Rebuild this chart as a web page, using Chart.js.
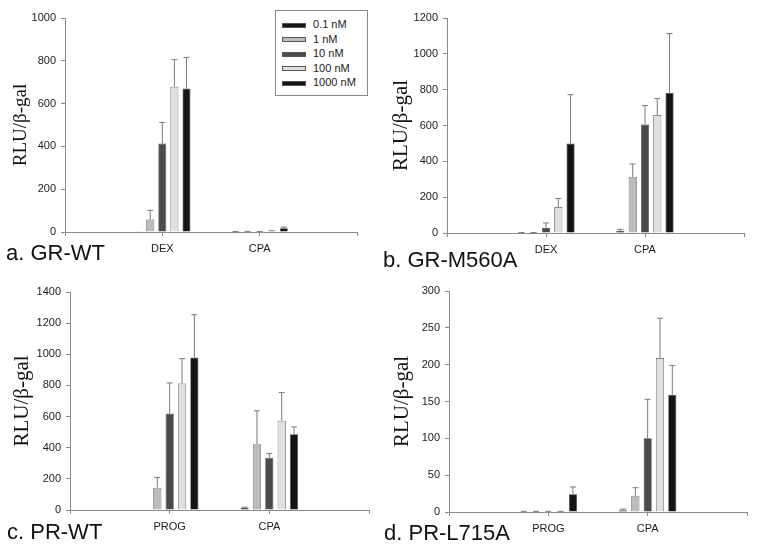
<!DOCTYPE html>
<html>
<head>
<meta charset="utf-8">
<script src="https://cdn.jsdelivr.net/npm/chart.js@4.4.1/dist/chart.umd.min.js"></script>
<style>
  body { margin: 0; background: #fff; }
  #wrap { position: relative; width: 757px; height: 548px; overflow: hidden; }
  canvas { position: absolute; }
  .panelLabel { position: absolute; font: 22px Arial, "Liberation Sans", sans-serif; line-height: 22px; color: #111; white-space: nowrap; }
  #legend { position: absolute; left: 275px; top: 10px; width: 91px; height: 84px; border: 1px solid #888; background: #fff;
            font: 11px Arial, "Liberation Sans", sans-serif; color: #222; }
  #legend div { position: absolute; left: 0; height: 14px; line-height: 14px; white-space: nowrap; color: #222; }
  #legend span { display: inline-block; width: 24px; height: 5px; margin: 0 7px 0 6px; vertical-align: middle; border: 0.5px solid #555; box-sizing: border-box; }
</style>
</head>
<body>
<div id="wrap">
  <canvas id="chartA" width="378" height="275" style="left:0;top:0"></canvas>
  <canvas id="chartB" width="379" height="275" style="left:378px;top:0"></canvas>
  <canvas id="chartC" width="378" height="273" style="left:0;top:275px"></canvas>
  <canvas id="chartD" width="379" height="273" style="left:378px;top:275px"></canvas>
  <div class="panelLabel" style="left:6px;top:242px">a. GR-WT</div>
  <div class="panelLabel" style="left:383px;top:249px">b. GR-M560A</div>
  <div class="panelLabel" style="left:7px;top:521px">c. PR-WT</div>
  <div class="panelLabel" style="left:384px;top:522px">d. PR-L715A</div>
  <div id="legend"></div>
</div>
<script>
const doses = ['0.1 nM', '1 nM', '10 nM', '100 nM', '1000 nM'];
const doseColors = ['#161616', '#bcbcbc', '#4a4a4a', '#e0e0e0', '#141414'];

const labelsGR = ['', 'DEX', 'CPA', ''];
const labelsPR = ['', 'PROG', 'CPA', ''];

// rows = dose, columns = [hormone, CPA]
const grWtMean = [[1, 1], [58, 2], [413, 1], [679, 4], [670, 17]];
const grWtErr = [[0, 1], [43, 1], [99, 1], [126, 2], [146, 6]];

const grM560Mean = [[2, 11], [2, 313], [28, 605], [145, 659], [499, 781]];
const grM560Err = [[1, 9], [1, 72], [28, 106], [48, 91], [273, 332]];

const prWtMean = [[2, 14], [143, 423], [620, 335], [812, 573], [979, 487]];
const prWtErr = [[0, 4], [66, 214], [196, 28], [160, 181], [275, 47]];

const prL715Mean = [[0.6, 2.5], [0.6, 22], [0.6, 100], [0.6, 209], [24, 159]];
const prL715Err = [[0.3, 1.5], [0.3, 11], [0.3, 53], [0.3, 54], [10, 40]];

// legenda do painel a
const legend = document.getElementById('legend');
doses.forEach((d, i) => {
    const row = document.createElement('div');
    row.style.top = (6 + i * 14.5) + 'px';
    row.innerHTML = '<span style="background:' + doseColors[i] + '"></span>' + d;
    legend.appendChild(row);
});

const errorBars = {
    id: 'errorBars',
    afterDatasetsDraw(chart) {
        const ctx = chart.ctx;
        const y = chart.scales.y;
        chart.data.datasets.forEach((ds, i) => {
            chart.getDatasetMeta(i).data.forEach((bar, j) => {
                const v = ds.data[j];
                const e = ds.errors[j];
                if (v == null || !e) return;
                const top = y.getPixelForValue(v + e);
                ctx.save();
                ctx.strokeStyle = '#7a7a7a';
                ctx.lineWidth = 1;
                ctx.beginPath();
                ctx.moveTo(bar.x, bar.y);
                ctx.lineTo(bar.x, top);
                ctx.moveTo(bar.x - 3, top);
                ctx.lineTo(bar.x + 3, top);
                ctx.stroke();
                ctx.restore();
            });
        });
    }
};

function criaPainel(id, labels, mean, err, max, step, area, titleSize, titlePad) {
    const canvas = document.getElementById(id);
    const w = canvas.width, h = canvas.height;
    const datasets = doses.map((d, i) => ({
        label: d,
        data: [null, mean[i][0], mean[i][1], null],
        errors: [null, err[i][0], err[i][1], null],
        backgroundColor: doseColors[i],
        borderColor: '#444',
        borderWidth: 0.7,
        categoryPercentage: 0.62,
        barPercentage: 0.66
    }));
    return new Chart(canvas, {
        type: 'bar',
        data: { labels: labels, datasets: datasets },
        options: {
            responsive: false,
            animation: false,
            layout: { padding: { left: 0, right: w - area[1], top: area[2], bottom: 0 } },
            plugins: { legend: { display: false }, tooltip: { enabled: false } },
            scales: {
                x: {
                    offset: false,
                    grid: { offset: false, drawOnChartArea: false, tickLength: 4, color: '#8a8a8a' },
                    border: { color: '#8a8a8a' },
                    ticks: { color: '#222', font: { family: 'Arial, "Liberation Sans"', size: 11 }, padding: 6, maxRotation: 0, autoSkip: false },
                    afterFit: s => { s.height = h - area[3]; }
                },
                y: {
                    min: 0, max: max,
                    grid: { drawOnChartArea: false, tickLength: 4, color: '#8a8a8a' },
                    border: { color: '#8a8a8a' },
                    ticks: {
                        stepSize: step, color: '#222', padding: 5,
                        font: { family: 'Arial, "Liberation Sans"', size: 11 },
                        callback: v => String(v)
                    },
                    title: {
                        display: true, text: 'RLU/β-gal', color: '#111',
                        font: { family: '"Times New Roman", "Liberation Serif", serif', size: titleSize },
                        padding: { top: titlePad, bottom: 0 }
                    },
                    afterFit: s => { s.width = area[0]; }
                }
            }
        },
        plugins: [errorBars]
    });
}

criaPainel('chartA', labelsGR, grWtMean, grWtErr, 1000, 200, [65, 357, 18, 232], 19, 10);
criaPainel('chartB', labelsGR, grM560Mean, grM560Err, 1200, 200, [69, 366, 18, 233], 21, 11);
criaPainel('chartC', labelsPR, prWtMean, prWtErr, 1400, 200, [70, 369, 17, 235], 21, 10);
criaPainel('chartD', labelsPR, prL715Mean, prL715Err, 300, 50, [71, 369, 16, 237], 21, 12);
</script>
</body>
</html>
